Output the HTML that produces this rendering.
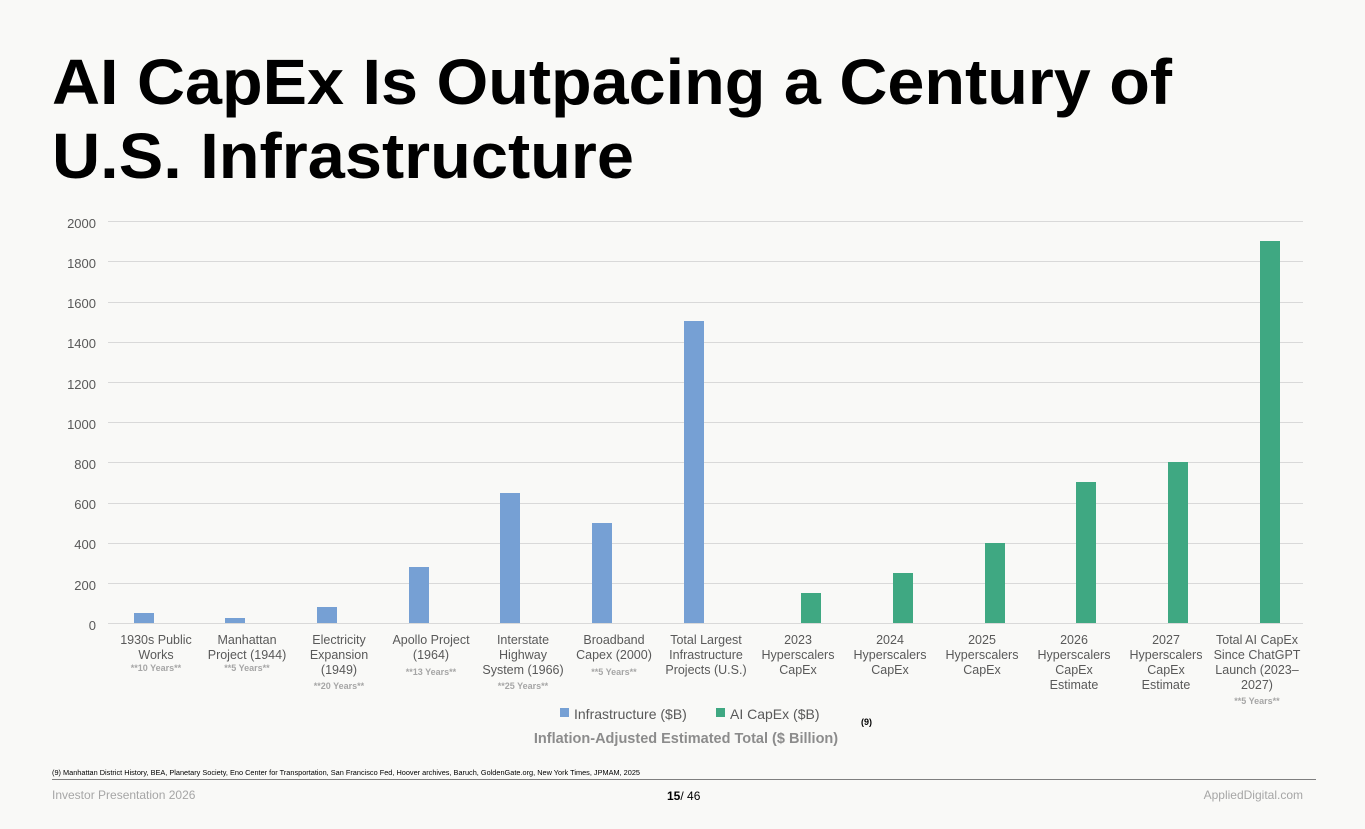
<!DOCTYPE html>
<html><head><meta charset="utf-8"><style>
html,body{margin:0;padding:0;background:#f9f9f7;}
svg{display:block;font-family:"Liberation Sans",sans-serif;}
</style></head><body>
<svg width="1365" height="829" viewBox="0 0 1365 829">
<rect width="1365" height="829" fill="#f9f9f7"/>
<text x="52" y="104" font-size="64" font-weight="bold" fill="#000" textLength="1120" lengthAdjust="spacingAndGlyphs">AI CapEx Is Outpacing a Century of</text>
<text x="52" y="178" font-size="64" font-weight="bold" fill="#000" textLength="582" lengthAdjust="spacingAndGlyphs">U.S. Infrastructure</text>
<g stroke="#d9d9d9" stroke-width="1">
<line x1="108" x2="1303" y1="221.5" y2="221.5"/><line x1="108" x2="1303" y1="261.5" y2="261.5"/>
<line x1="108" x2="1303" y1="302.5" y2="302.5"/><line x1="108" x2="1303" y1="342.5" y2="342.5"/>
<line x1="108" x2="1303" y1="382.5" y2="382.5"/><line x1="108" x2="1303" y1="422.5" y2="422.5"/>
<line x1="108" x2="1303" y1="462.5" y2="462.5"/><line x1="108" x2="1303" y1="503.5" y2="503.5"/>
<line x1="108" x2="1303" y1="543.5" y2="543.5"/><line x1="108" x2="1303" y1="583.5" y2="583.5"/>
<line x1="108" x2="1303" y1="623.5" y2="623.5"/>
</g>
<g font-size="13" fill="#595959" text-anchor="end">
<text x="96" y="228">2000</text><text x="96" y="268">1800</text><text x="96" y="308">1600</text>
<text x="96" y="348">1400</text><text x="96" y="389">1200</text><text x="96" y="429">1000</text>
<text x="96" y="469">800</text><text x="96" y="509">600</text><text x="96" y="549">400</text>
<text x="96" y="590">200</text><text x="96" y="630">0</text>
</g>
<g fill="#76a0d4">
<rect x="134" y="613" width="20" height="10"/>
<rect x="225" y="618" width="20" height="5"/>
<rect x="317" y="607" width="20" height="16"/>
<rect x="409" y="567" width="20" height="56"/>
<rect x="500" y="493" width="20" height="130"/>
<rect x="592" y="523" width="20" height="100"/>
<rect x="684" y="321" width="20" height="302"/>
</g>
<g fill="#3fa882">
<rect x="801" y="593" width="20" height="30"/>
<rect x="893" y="573" width="20" height="50"/>
<rect x="985" y="543" width="20" height="80"/>
<rect x="1076" y="482" width="20" height="141"/>
<rect x="1168" y="462" width="20" height="161"/>
<rect x="1260" y="241" width="20" height="382"/>
</g>
<g font-size="12.5" fill="#595959" text-anchor="middle">
<text x="156" y="644">1930s Public</text><text x="156" y="659">Works</text>
<text x="247" y="644">Manhattan</text><text x="247" y="659">Project (1944)</text>
<text x="339" y="644">Electricity</text><text x="339" y="659">Expansion</text><text x="339" y="674">(1949)</text>
<text x="431" y="644">Apollo Project</text><text x="431" y="659">(1964)</text>
<text x="523" y="644">Interstate</text><text x="523" y="659">Highway</text><text x="523" y="674">System (1966)</text>
<text x="614" y="644">Broadband</text><text x="614" y="659">Capex (2000)</text>
<text x="706" y="644">Total Largest</text><text x="706" y="659">Infrastructure</text><text x="706" y="674">Projects (U.S.)</text>
<text x="798" y="644">2023</text><text x="798" y="659">Hyperscalers</text><text x="798" y="674">CapEx</text>
<text x="890" y="644">2024</text><text x="890" y="659">Hyperscalers</text><text x="890" y="674">CapEx</text>
<text x="982" y="644">2025</text><text x="982" y="659">Hyperscalers</text><text x="982" y="674">CapEx</text>
<text x="1074" y="644">2026</text><text x="1074" y="659">Hyperscalers</text><text x="1074" y="674">CapEx</text><text x="1074" y="689">Estimate</text>
<text x="1166" y="644">2027</text><text x="1166" y="659">Hyperscalers</text><text x="1166" y="674">CapEx</text><text x="1166" y="689">Estimate</text>
<text x="1257" y="644">Total AI CapEx</text><text x="1257" y="659">Since ChatGPT</text><text x="1257" y="674">Launch (2023–</text><text x="1257" y="689">2027)</text>
</g>
<g font-size="9" font-weight="bold" fill="#a6a6a6" text-anchor="middle">
<text x="156" y="671">**10 Years**</text>
<text x="247" y="671">**5 Years**</text>
<text x="339" y="689">**20 Years**</text>
<text x="431" y="675">**13 Years**</text>
<text x="523" y="689">**25 Years**</text>
<text x="614" y="675">**5 Years**</text>
<text x="1257" y="704">**5 Years**</text>
</g>
<rect x="560" y="708" width="9" height="9" fill="#76a0d4"/>
<text x="574" y="719" font-size="14" fill="#595959">Infrastructure ($B)</text>
<rect x="716" y="708" width="9" height="9" fill="#3fa882"/>
<text x="730" y="719" font-size="14" fill="#595959">AI CapEx ($B)</text>
<text x="861" y="725" font-size="9" font-weight="bold" fill="#000">(9)</text>
<text x="686" y="743" font-size="14.5" font-weight="bold" fill="#8c8c8c" text-anchor="middle">Inflation-Adjusted Estimated Total ($ Billion)</text>
<text x="52" y="775" font-size="7" fill="#000" textLength="588" lengthAdjust="spacingAndGlyphs">(9) Manhattan District History, BEA, Planetary Society, Eno Center for Transportation, San Francisco Fed, Hoover archives, Baruch, GoldenGate.org, New York Times, JPMAM, 2025</text>
<line x1="52" x2="1316" y1="779.5" y2="779.5" stroke="#7f7f7f" stroke-width="1"/>
<text x="52" y="799" font-size="12" fill="#a6a6a6">Investor Presentation  2026</text>
<text x="667" y="800" font-size="12" fill="#000"><tspan font-weight="bold">15</tspan>/ 46</text>
<text x="1303" y="799" font-size="12" fill="#a6a6a6" text-anchor="end">AppliedDigital.com</text>
</svg>
</body></html>
